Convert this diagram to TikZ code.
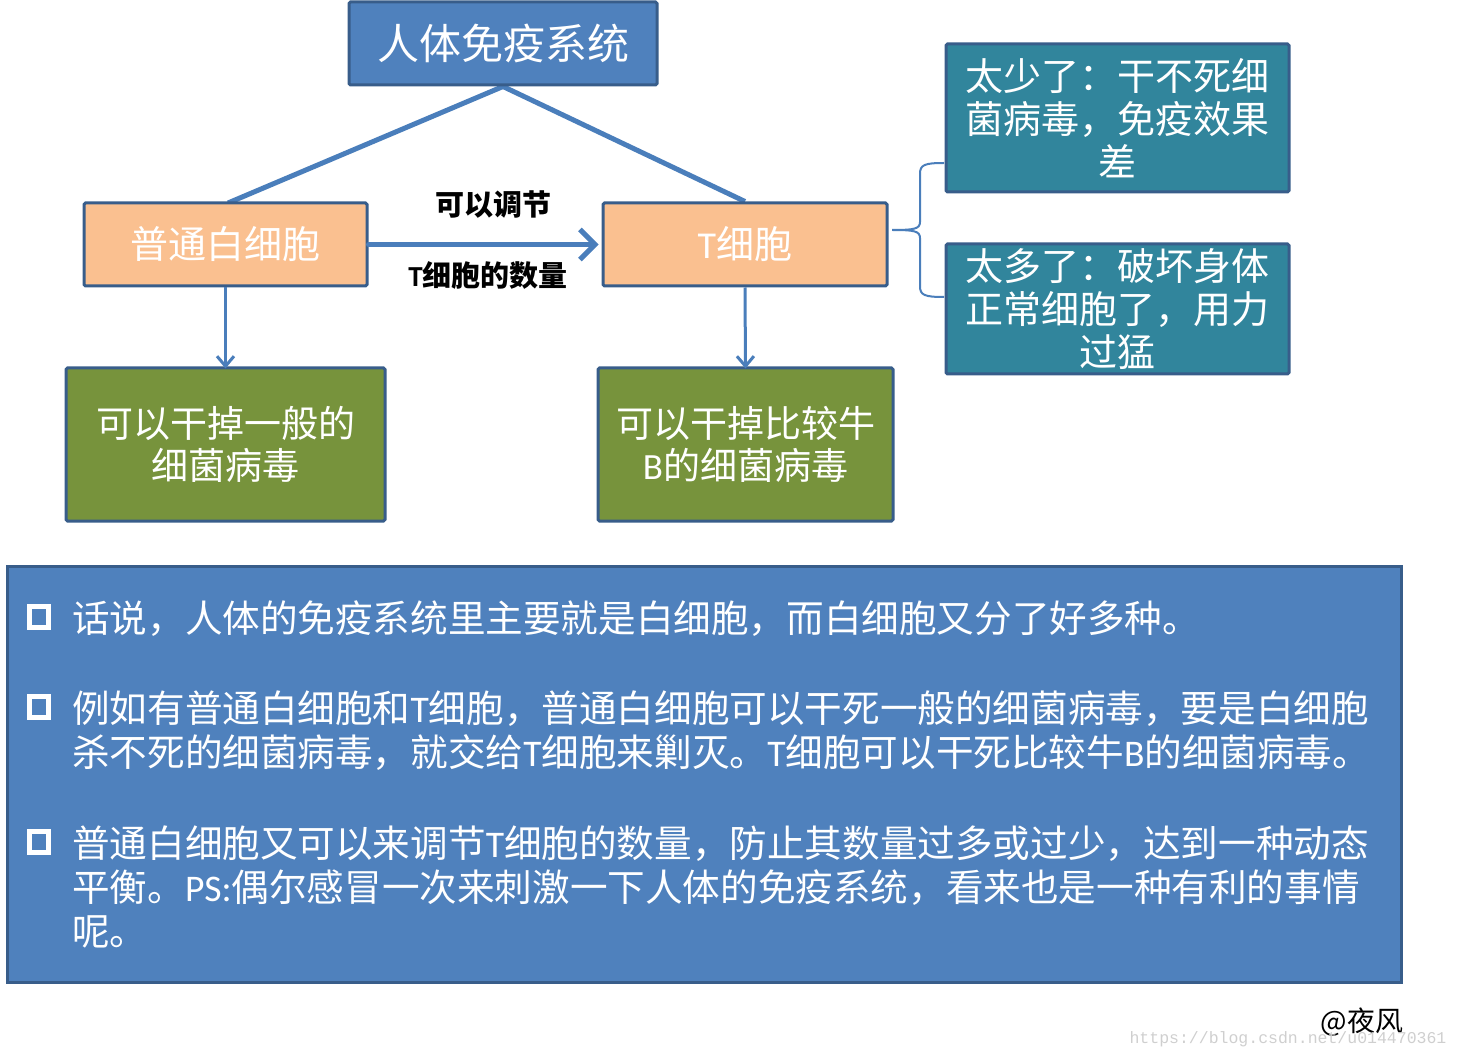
\documentclass[tikz,border=0pt]{standalone}
\usepackage{fontspec}
\setmainfont{Noto Sans CJK SC}
\newfontfamily\latf{Carlito}
\newfontfamily\monof{Liberation Mono}
\usetikzlibrary{arrows.meta,backgrounds,calc}
\definecolor{bfill}{HTML}{4F81BD}
\definecolor{bdraw}{HTML}{385D8A}
\definecolor{lnc}{HTML}{4A7EBB}
\definecolor{ofill}{HTML}{FAC090}
\definecolor{gfill}{HTML}{77933C}
\definecolor{tfill}{HTML}{31859C}
\definecolor{wmark}{HTML}{CFCFCF}
\newcommand\ltx[1]{{\latf #1}}
\begin{document}
\begin{tikzpicture}[x=1pt,y=-1pt,
  box/.style={draw=bdraw, line width=3pt, rounded corners=1.5pt, text=white, align=center, inner sep=0pt},
  conn/.style={draw=lnc, line width=5pt},
  darr/.style={draw=lnc, line width=3pt, -{Straight Barb[length=10pt,width=17pt]}},
  lbl/.style={font=\fontsize{29}{32}\selectfont\bfseries, text=black, inner sep=0pt},
  btext/.style={anchor=base west, text=white, inner sep=0pt, font=\fontsize{37.6}{44}\selectfont},
  bullet/.style={draw=white, line width=5pt}
]
\useasboundingbox (0,0) rectangle (1460,1059);

\node[box, fill=bfill, minimum width=308pt, minimum height=83pt, font=\fontsize{42}{50}\selectfont] (top) at (503,43.5) {人体免疫系统};

\node[box, fill=ofill, minimum width=283pt, minimum height=83pt, font=\fontsize{38}{44}\selectfont] (wbc) at (225.5,244.5) {普通白细胞};
\node[box, fill=ofill, minimum width=284pt, minimum height=83pt, font=\fontsize{38}{44}\selectfont] (tc) at (745,244.5) {\ltx{T}细胞};

\node[box, fill=gfill, minimum width=319pt, minimum height=153pt, font=\fontsize{37}{42}\selectfont] (gl) at (225.5,444.5) {可以干掉一般的\\细菌病毒};
\node[box, fill=gfill, minimum width=295pt, minimum height=153pt, font=\fontsize{37}{42}\selectfont] (gr) at (745.5,444.5) {可以干掉比较牛\\\ltx{B}的细菌病毒};

\node[box, fill=tfill, minimum width=343pt, minimum height=148pt, font=\fontsize{38}{43}\selectfont] (few) at (1117.5,118) {太少了：干不死细\\菌病毒，免疫效果\\差};
\node[box, fill=tfill, minimum width=343pt, minimum height=130pt, font=\fontsize{38}{43}\selectfont] (many) at (1117.5,309) {太多了：破坏身体\\正常细胞了，用力\\过猛};

\begin{scope}[on background layer]
\draw[conn] (top.south) -- (228,203) coordinate (wbctop);
\draw[conn] (top.south) -- (tc.north);
\end{scope}

\draw[draw=lnc, line width=5pt, line cap=round, -{Straight Barb[length=15pt,width=30pt]}] (wbc.east) -- ([xshift=-3pt]tc.west);
\node[lbl] (lab1) at (493,205) {可以调节};
\node[lbl] (lab2) at (488,275) {\ltx{\bfseries T}细胞的数量};

\draw[darr] (wbc.south) -- ([yshift=-2pt]gl.north);
\draw[darr] (tc.south) -- ([yshift=-2pt]gr.north);

\coordinate (btip) at (892,230);
\coordinate (bup) at (944,163);
\coordinate (bdn) at (944,297);
\draw[draw=lnc, line width=2pt] (bup) .. controls (924,163) and (920,165) .. (920,174) -- (920,222) .. controls (920,229) and (914,230) .. (btip)
  .. controls (914,230) and (920,231) .. (920,238) -- (920,286) .. controls (920,295) and (924,297) .. (bdn);

\node[draw=bdraw, line width=3pt, fill=bfill, minimum width=1394pt, minimum height=416pt, inner sep=0pt] (big) at (704,774) {};

\draw[bullet] (29.5,606) rectangle (48.5,627);
\draw[bullet] (29.5,696) rectangle (48.5,717);
\draw[bullet] (29.5,831) rectangle (48.5,852);

\node[btext] (l1) at (72,632) {话说，人体的免疫系统里主要就是白细胞，而白细胞又分了好多种。};
\node[btext] (l2) at (72,722) {例如有普通白细胞和\ltx{T}细胞，普通白细胞可以干死一般的细菌病毒，要是白细胞};
\node[btext] (l3) at (72,766) {杀不死的细菌病毒，就交给\ltx{T}细胞来剿灭。\ltx{T}细胞可以干死比较牛\ltx{B}的细菌病毒。};
\node[btext] (l4) at (72,857) {普通白细胞又可以来调节\ltx{T}细胞的数量，防止其数量过多或过少，达到一种动态};
\node[btext] (l5) at (72,901) {平衡。\ltx{PS:}偶尔感冒一次来刺激一下人体的免疫系统，看来也是一种有利的事情};
\node[btext] (l6) at (72,945) {呢。};

\node[text=black, inner sep=0pt, font=\fontsize{28}{30}\selectfont] (at) at (1362,1022) {@夜风};
\node[text=wmark, inner sep=0pt, font=\monof\fontsize{16.5}{18}\selectfont] (url) at (1288,1039) {https://blog.csdn.net/u014470361};
\end{tikzpicture}
\end{document}
